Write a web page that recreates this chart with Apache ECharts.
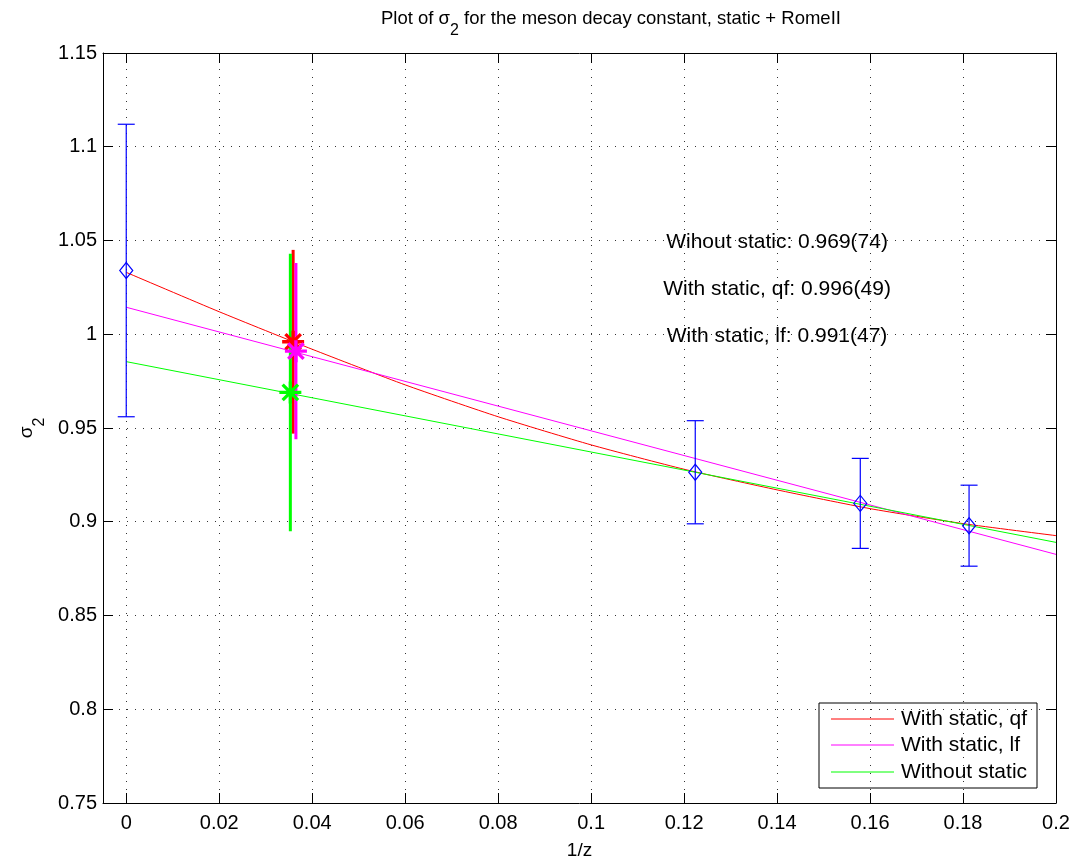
<!DOCTYPE html>
<html><head><meta charset="utf-8">
<script src="https://cdn.jsdelivr.net/npm/echarts@6/dist/echarts.min.js"></script>
<style>html,body{margin:0;padding:0;background:#fff}#c{width:1075px;height:859px}</style>
</head><body><div id="c"></div>
<script>
// ---- tick values / labels ----
const xTicks = [0, 0.02, 0.04, 0.06, 0.08, 0.1, 0.12, 0.14, 0.16, 0.18, 0.2];
const xTickLabels = ['0', '0.02', '0.04', '0.06', '0.08', '0.1', '0.12', '0.14', '0.16', '0.18', '0.2'];
const yTicks = [0.75, 0.8, 0.85, 0.9, 0.95, 1, 1.05, 1.1, 1.15];
const yTickLabels = ['0.75', '0.8', '0.85', '0.9', '0.95', '1', '1.05', '1.1', '1.15'];

// ---- measured points (blue diamonds with error bars) ----
const measX = [0, 0.1224, 0.1579, 0.1813];
const measY = [1.034, 0.9264, 0.9098, 0.8979];
const measErr = [0.078, 0.0275, 0.024, 0.0216];

// ---- fits ----
const qfX = [0, 0.02, 0.04, 0.06, 0.08, 0.1, 0.12, 0.14, 0.16, 0.18, 0.2];
const qfY = [1.033, 1.012, 0.992, 0.973, 0.956, 0.941, 0.928, 0.917, 0.907, 0.899, 0.8926];
const lfX = [0, 0.2];
const lfY = [1.0144, 0.8826];
const noStaticX = [0, 0.2];
const noStaticY = [0.9854, 0.8890];

// ---- extrapolated values ----
const extrapNames = ['With static, qf', 'With static, lf', 'Without static'];
const extrapX = [0.0359, 0.0365, 0.0353];
const extrapY = [0.996, 0.991, 0.969];
const extrapErr = [0.049, 0.047, 0.074];

// ---- annotations ----
const annoText = ['Wihout static: 0.969(74)', 'With static, qf: 0.996(49)', 'With static, lf: 0.991(47)'];
const annoX = [0.14, 0.14, 0.14];
const annoY = [1.05, 1.025, 1.0];

const FONT = 'Liberation Sans, Arial, Helvetica, sans-serif';
const RED = '#ff0000', MAG = '#ff00ff', GRN = '#00ff00', BLUE = '#0000ff';
const extrapColors = [RED, MAG, GRN];

const ast = 'path://M-10,-1.5L10,-1.5L10,1.5L-10,1.5Z M-1.5,-10L1.5,-10L1.5,10L-1.5,10Z M-8.06,-5.94L-5.94,-8.06L8.06,5.94L5.94,8.06Z M-8.06,5.94L5.94,-8.06L8.06,-5.94L-5.94,8.06Z';

const chart = echarts.init(document.getElementById('c'), null, {renderer: 'canvas'});

const dotted = {show: true, lineStyle: {color: '#333', width: 1, type: [1, 7]}};

// legend box drawn as graphic (layout only; entries come from extrapNames / extrapColors)
const LEG = {x: 819, y: 703, w: 218, h: 85, rowY: [16, 42, 69], lineX1: 12, lineX2: 75, textX: 82};
const legendChildren = [{type: 'rect', shape: {x: 0, y: 0, width: LEG.w, height: LEG.h},
  style: {fill: '#fff', stroke: '#000', lineWidth: 1}}];
extrapNames.forEach((n, i) => {
  legendChildren.push({type: 'line', shape: {x1: LEG.lineX1, y1: LEG.rowY[i], x2: LEG.lineX2, y2: LEG.rowY[i]},
    style: {stroke: extrapColors[i], lineWidth: 1}});
  legendChildren.push({type: 'text', x: LEG.textX, y: LEG.rowY[i],
    style: {text: n, fill: '#000', font: '21px ' + FONT, textVerticalAlign: 'middle', verticalAlign: 'middle'}});
});

chart.setOption({
  animation: false,
  backgroundColor: '#fff',
  color: [RED, MAG, GRN, BLUE, BLUE, BLUE, BLUE, '#000'],
  textStyle: {fontFamily: FONT},
  title: {
    text: '{a|Plot of σ}{s|2}{a| for the meson decay constant, static + RomeII}',
    left: 381, top: 9, padding: 0,
    textStyle: {
      fontWeight: 'normal',
      rich: {
        a: {fontSize: 18.5, lineHeight: 22, verticalAlign: 'top', color: '#000', fontFamily: FONT, fontWeight: 'normal'},
        s: {fontSize: 16, lineHeight: 30, verticalAlign: 'bottom', color: '#000', fontFamily: FONT, fontWeight: 'normal'}
      }
    }
  },
  grid: {left: 103, right: 19, top: 53, bottom: 56, containLabel: false, outerBoundsMode: 'none'},
  graphic: [{type: 'group', x: LEG.x, y: LEG.y, z: 100, silent: true, children: legendChildren}],
  xAxis: [{
    type: 'value', min: -0.005, max: 0.2,
    name: '1/z', nameLocation: 'middle', nameGap: 38,
    nameTextStyle: {fontSize: 19, color: '#000', fontFamily: FONT},
    axisLine: {show: true, onZero: false, lineStyle: {color: '#000', width: 1}},
    axisTick: {show: true, inside: true, length: 10, customValues: xTicks, lineStyle: {color: '#000'}},
    axisLabel: {show: true, customValues: xTicks, fontSize: 20, color: '#000', margin: 10, fontFamily: FONT,
      formatter: v => { const i = xTicks.findIndex(t => Math.abs(t - v) < 1e-9); return i >= 0 ? xTickLabels[i] : ''; }},
    splitLine: dotted
  }, {
    type: 'value', min: -0.005, max: 0.2, position: 'top',
    axisLine: {show: true, onZero: false, lineStyle: {color: '#000', width: 1}},
    axisTick: {show: true, inside: true, length: 10, customValues: xTicks, lineStyle: {color: '#000'}},
    axisLabel: {show: false, customValues: xTicks},
    splitLine: {show: false}
  }],
  yAxis: [{
    type: 'value', min: 0.75, max: 1.15, interval: 0.05,
    name: '{a|σ}{s|2}', nameLocation: 'middle', nameGap: 46, nameRotate: 90,
    nameTextStyle: {
      rich: {
        a: {fontSize: 19, lineHeight: 22, verticalAlign: 'top', color: '#000', fontFamily: FONT},
        s: {fontSize: 16, lineHeight: 30, verticalAlign: 'bottom', color: '#000', fontFamily: FONT}
      }
    },
    axisLine: {show: true, onZero: false, lineStyle: {color: '#000', width: 1}},
    axisTick: {show: true, inside: true, length: 10, lineStyle: {color: '#000'}},
    axisLabel: {fontSize: 20, color: '#000', margin: 6, fontFamily: FONT,
      formatter: v => { const i = yTicks.findIndex(t => Math.abs(t - v) < 1e-9); return i >= 0 ? yTickLabels[i] : ''; }},
    splitLine: dotted
  }, {
    type: 'value', min: 0.75, max: 1.15, interval: 0.05, position: 'right',
    axisLine: {show: true, onZero: false, lineStyle: {color: '#000', width: 1}},
    axisTick: {show: true, inside: true, length: 10, lineStyle: {color: '#000'}},
    axisLabel: {show: false},
    splitLine: {show: false}
  }],
  series: [
    {
      name: extrapNames[0], type: 'line', symbol: 'none', z: 2, smooth: 0.2,
      lineStyle: {color: RED, width: 1}, itemStyle: {color: RED},
      data: qfX.map((x, i) => [x, qfY[i]])
    },
    {
      name: extrapNames[1], type: 'line', symbol: 'none', z: 2,
      lineStyle: {color: MAG, width: 1}, itemStyle: {color: MAG},
      data: lfX.map((x, i) => [x, lfY[i]])
    },
    {
      name: extrapNames[2], type: 'line', symbol: 'none', z: 2,
      lineStyle: {color: GRN, width: 1}, itemStyle: {color: GRN},
      data: noStaticX.map((x, i) => [x, noStaticY[i]])
    },
    {
      name: 'errbars', type: 'custom', z: 3, silent: true,
      data: measX.map((x, i) => [x, measY[i], measErr[i]]),
      renderItem: (params, api) => {
        const x = api.value(0), y = api.value(1), e = api.value(2);
        const t = api.coord([x, y + e]), b = api.coord([x, y - e]);
        const hw = 8.5, st = {stroke: BLUE, lineWidth: 1.2};
        return {type: 'group', children: [
          {type: 'line', shape: {x1: t[0], y1: t[1], x2: b[0], y2: b[1]}, style: st},
          {type: 'line', shape: {x1: t[0] - hw, y1: t[1], x2: t[0] + hw, y2: t[1]}, style: st},
          {type: 'line', shape: {x1: b[0] - hw, y1: b[1], x2: b[0] + hw, y2: b[1]}, style: st}
        ]};
      }
    },
    {
      name: 'meas', type: 'scatter', z: 4, symbol: 'diamond', symbolSize: [13, 16], silent: true,
      itemStyle: {color: 'rgba(0,0,0,0)', borderColor: BLUE, borderWidth: 1.2, opacity: 1},
      data: measX.map((x, i) => [x, measY[i]])
    },
    {
      name: 'extrapBars', type: 'custom', z: 5, silent: true,
      data: [0, 2, 1].map(i => [extrapX[i], extrapY[i], extrapErr[i], i]),
      renderItem: (params, api) => {
        const x = api.value(0), y = api.value(1), e = api.value(2), k = api.value(3);
        const t = api.coord([x, y + e]), b = api.coord([x, y - e]);
        return {type: 'line', shape: {x1: t[0], y1: t[1], x2: b[0], y2: b[1]},
          style: {stroke: extrapColors[k], lineWidth: 3}};
      }
    },
    {
      name: 'extrapPts', type: 'scatter', z: 6, symbol: ast, symbolSize: 22, silent: true,
      data: [0, 2, 1].map(i => ({value: [extrapX[i], extrapY[i]], itemStyle: {color: extrapColors[i], opacity: 1}}))
    },
    {
      name: 'anno', type: 'scatter', z: 7, symbolSize: 1, silent: true,
      itemStyle: {color: 'rgba(0,0,0,0)', opacity: 1},
      label: {show: true, position: 'inside', offset: [0, 2], fontSize: 21, color: '#000', fontFamily: FONT,
        textBorderWidth: 0, opacity: 1,
        formatter: p => annoText[p.dataIndex]},
      data: annoX.map((x, i) => [x, annoY[i]])
    }
  ]
});
</script>
</body></html>
